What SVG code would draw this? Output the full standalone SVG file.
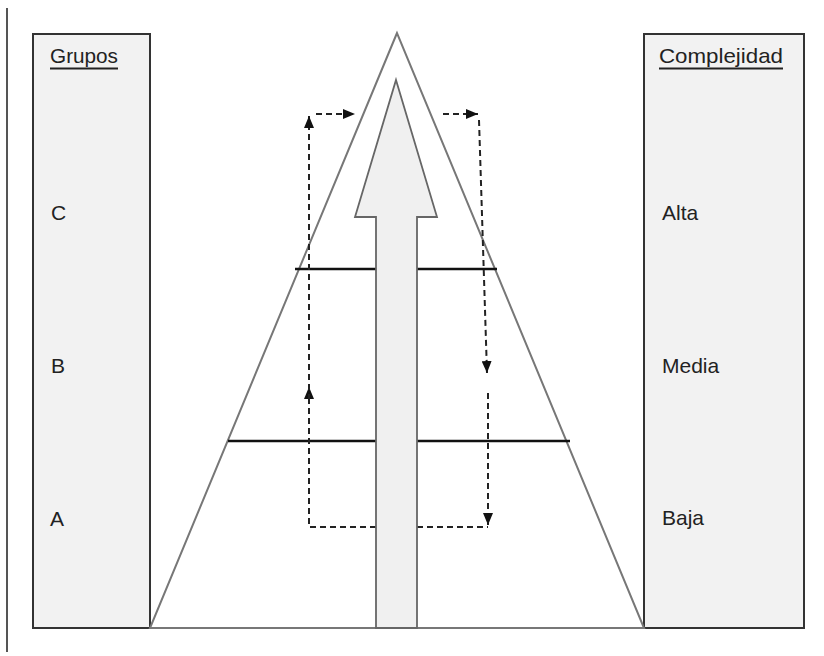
<svg xmlns="http://www.w3.org/2000/svg" width="824" height="656" viewBox="0 0 824 656">
<defs>
<style>
.box{fill:#f2f2f2;stroke:#333;stroke-width:2}
.lbl{font-family:"Liberation Sans",Arial,sans-serif;font-size:21px;fill:#222}
.dash{fill:none;stroke:#222;stroke-width:2;stroke-dasharray:6,4}
.level{stroke:#111;stroke-width:2.5}
.ul{stroke:#222;stroke-width:1.8}
</style>
<marker id="ah" markerUnits="userSpaceOnUse" markerWidth="12" markerHeight="10" refX="12" refY="5" orient="auto">
<path d="M0,0 L12,5 L0,10 Z" fill="#111"/>
</marker>
</defs>
<rect width="824" height="656" fill="#fff"/>
<line x1="7" y1="8" x2="7" y2="652" stroke="#555" stroke-width="2"/>
<g id="grupos">
<rect class="box" x="33" y="34" width="117" height="594"/>
<text class="lbl" x="50" y="63" textLength="68" lengthAdjust="spacingAndGlyphs">Grupos</text>
<line class="ul" x1="50" y1="68.5" x2="118" y2="68.5"/>
<text class="lbl" x="51" y="220">C</text>
<text class="lbl" x="51" y="373">B</text>
<text class="lbl" x="50" y="526">A</text>
</g>
<g id="complejidad">
<rect class="box" x="644" y="34" width="160" height="594"/>
<text class="lbl" x="659" y="63" textLength="124" lengthAdjust="spacingAndGlyphs">Complejidad</text>
<line class="ul" x1="659" y1="68.5" x2="783" y2="68.5"/>
<text class="lbl" x="662" y="220">Alta</text>
<text class="lbl" x="662" y="373">Media</text>
<text class="lbl" x="662" y="525">Baja</text>
</g>
<g id="piramide">
<polygon points="397,33 150,628 644,628" fill="#fff" stroke="#777" stroke-width="2"/>
<line class="level" x1="295" y1="269" x2="497" y2="269"/>
<line class="level" x1="228" y1="441" x2="570" y2="441"/>
</g>
<g id="connectors">
<path class="dash" d="M376,527 H309 V400"/>
<path class="dash" d="M309,398 V387" marker-end="url(#ah)"/>
<path class="dash" d="M309,400 V116" marker-end="url(#ah)"/>
<path class="dash" d="M316,114 H355" marker-end="url(#ah)"/>
<path class="dash" d="M443,114 H478" marker-end="url(#ah)"/>
<path class="dash" d="M479,120 L487,373" marker-end="url(#ah)"/>
<path class="dash" d="M488,393 V525" marker-end="url(#ah)"/>
<path class="dash" d="M417,527 H488"/>
</g>
<g id="flecha">
<polygon points="396,80 437,217 417,217 417,628 376,628 376,217 355,217" fill="#f0f0f0" stroke="#666" stroke-width="1.8"/>
</g>
</svg>
